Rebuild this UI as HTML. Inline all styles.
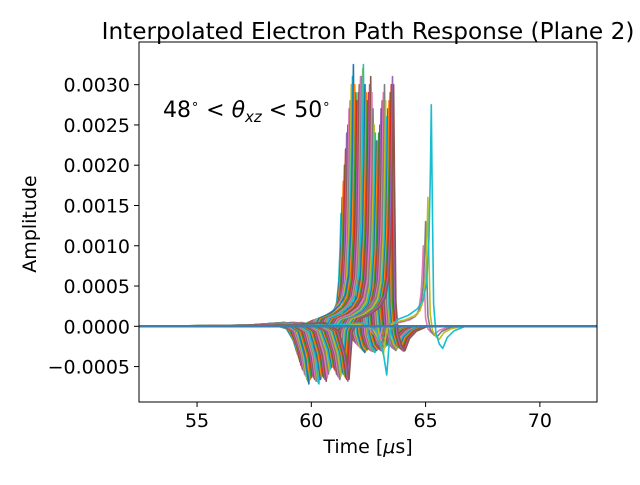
<!DOCTYPE html>
<html><head><meta charset="utf-8"><style>
body{margin:0;background:#fff;font-family:"Liberation Sans","DejaVu Sans",sans-serif}
svg text{font-family:"DejaVu Sans","Liberation Sans",sans-serif}
</style></head><body>
<svg id="c" width="640" height="480">
<rect width="640" height="480" fill="#fff"/>
<text x="368" y="39" font-size="23.2" text-anchor="middle">Interpolated Electron Path Response (Plane 2)</text>
<text x="163" y="117" font-size="22">48<tspan dy="-9" font-size="13">∘</tspan><tspan dy="9"> &lt; </tspan><tspan font-style="italic">θ</tspan><tspan dy="5" font-size="15" font-style="italic">xz</tspan><tspan dy="-5"> &lt; 50</tspan><tspan dy="-9" font-size="13">∘</tspan></text>
<g id="plot"></g>
<g id="axes"></g>
<text x="368" y="453" font-size="19" text-anchor="middle">Time [<tspan font-style="italic">μ</tspan>s]</text>
<text transform="translate(36,224) rotate(-90)" font-size="19" text-anchor="middle">Amplitude</text>
</svg>
<script>
const xTicks=[55,60,65,70];
const yTicks=[-0.0005,0,0.0005,0.001,0.0015,0.002,0.0025,0.003];
const yTickLabels=["−0.0005","0.0000","0.0005","0.0010","0.0015","0.0020","0.0025","0.0030"];
const peakTimes=[61.3,61.35,61.4,61.45,61.5,61.55,61.6,61.65,61.7,61.75,61.8,61.84,61.9,61.95,62.0,62.05,62.1,62.15,62.2,62.25,62.28,62.35,62.4,62.45,62.5,62.55,62.6,62.65,62.7,62.75,62.8,62.85,62.9,62.95,63.0,63.05,63.1,63.15,63.2,63.25,63.3,63.35,63.4,63.45,63.5,63.55,63.6,64.9,65.0,65.1,65.25];
const peakAmps=[0.0014,0.0016,0.0018,0.0020,0.0022,0.0024,0.0025,0.0027,0.0028,0.0030,0.0031,0.00325,0.0030,0.0029,0.0028,0.0029,0.0030,0.0031,0.0031,0.0032,0.00325,0.0030,0.0029,0.0028,0.0029,0.0030,0.0031,0.0029,0.0027,0.0025,0.0024,0.0023,0.0023,0.0024,0.0025,0.0027,0.0028,0.0029,0.0030,0.0028,0.0026,0.0027,0.0028,0.0029,0.0030,0.0031,0.0030,0.0010,0.0013,0.0016,0.00275];
const shapeOffsets=[-9,-4.5,-3,-2.4,-2.1,-1.95,-1.8,-1.5,-1.0,-0.6,-0.35,-0.2,-0.1,-0.04,0,0.04,0.1,0.2,0.35,0.5,0.7,1.0,1.5,9];
const shapeValues=[0,0.005,0.015,-0.02,-0.12,-0.22,-0.02,0.03,0.05,0.08,0.12,0.2,0.4,0.7,1,0.6,0.1,-0.03,-0.08,-0.1,-0.05,-0.02,0,0];
const colors=["#1f77b4","#ff7f0e","#2ca02c","#d62728","#9467bd","#8c564b","#e377c2","#7f7f7f","#bcbd22","#17becf"];
const L=139,R=597,T=42,B=402,xmin=52.46,xmax=72.5,ymin=-0.00094,ymax=0.00353;
const X=v=>L+(v-xmin)/(xmax-xmin)*(R-L);
const Y=v=>B-(v-ymin)/(ymax-ymin)*(B-T);
const NS="http://www.w3.org/2000/svg";
const plot=document.getElementById('plot'),axes=document.getElementById('axes');
const defs=document.createElementNS(NS,'clipPath');defs.setAttribute('id','clip');
const cr=document.createElementNS(NS,'rect');cr.setAttribute('x',L);cr.setAttribute('y',T);cr.setAttribute('width',R-L);cr.setAttribute('height',B-T);
defs.appendChild(cr);document.getElementById('c').appendChild(defs);
plot.setAttribute('clip-path','url(#clip)');
peakTimes.forEach((t,i)=>{
  const p=document.createElementNS(NS,'path');
  
  
  const d=shapeOffsets.map((o,k)=>(k?'L':'M')+X(t+o).toFixed(1)+','+Y(peakAmps[i]*shapeValues[k]).toFixed(1)).join('');
  p.setAttribute('d',d);p.setAttribute('fill','none');p.setAttribute('stroke',colors[(i+9)%10]);p.setAttribute('stroke-width','1.6');p.setAttribute('stroke-linejoin','round');
  plot.appendChild(p);
});
const z=document.createElementNS(NS,'line');


z.setAttribute('x1',L);z.setAttribute('x2',R);z.setAttribute('y1',Y(0));z.setAttribute('y2',Y(0));z.setAttribute('stroke','#3a7fb0');z.setAttribute('stroke-width','2.5');
plot.appendChild(z);
const fr=document.createElementNS(NS,'rect');


fr.setAttribute('x',L);fr.setAttribute('y',T);fr.setAttribute('width',R-L);fr.setAttribute('height',B-T);fr.setAttribute('fill','none');fr.setAttribute('stroke','#000');fr.setAttribute('stroke-width','1');
axes.appendChild(fr);
xTicks.forEach(v=>{
  const l=document.createElementNS(NS,'line');
  
  
  l.setAttribute('x1',X(v));l.setAttribute('x2',X(v));l.setAttribute('y1',B);l.setAttribute('y2',B+5);l.setAttribute('stroke','#000');
  axes.appendChild(l);
  const t=document.createElementNS(NS,'text');
  
  
  t.setAttribute('x',X(v));t.setAttribute('y',B+25);t.setAttribute('font-size','19');t.setAttribute('text-anchor','middle');t.textContent=v;
  axes.appendChild(t);
});
yTicks.forEach((v,i)=>{
  const l=document.createElementNS(NS,'line');
  
  
  l.setAttribute('x1',L-5);l.setAttribute('x2',L);l.setAttribute('y1',Y(v));l.setAttribute('y2',Y(v));l.setAttribute('stroke','#000');
  axes.appendChild(l);
  const t=document.createElementNS(NS,'text');
  
  
  t.setAttribute('x',L-9);t.setAttribute('y',Y(v)+7);t.setAttribute('font-size','19');t.setAttribute('text-anchor','end');t.textContent=yTickLabels[i];
  axes.appendChild(t);
});
</script>
</body></html>
